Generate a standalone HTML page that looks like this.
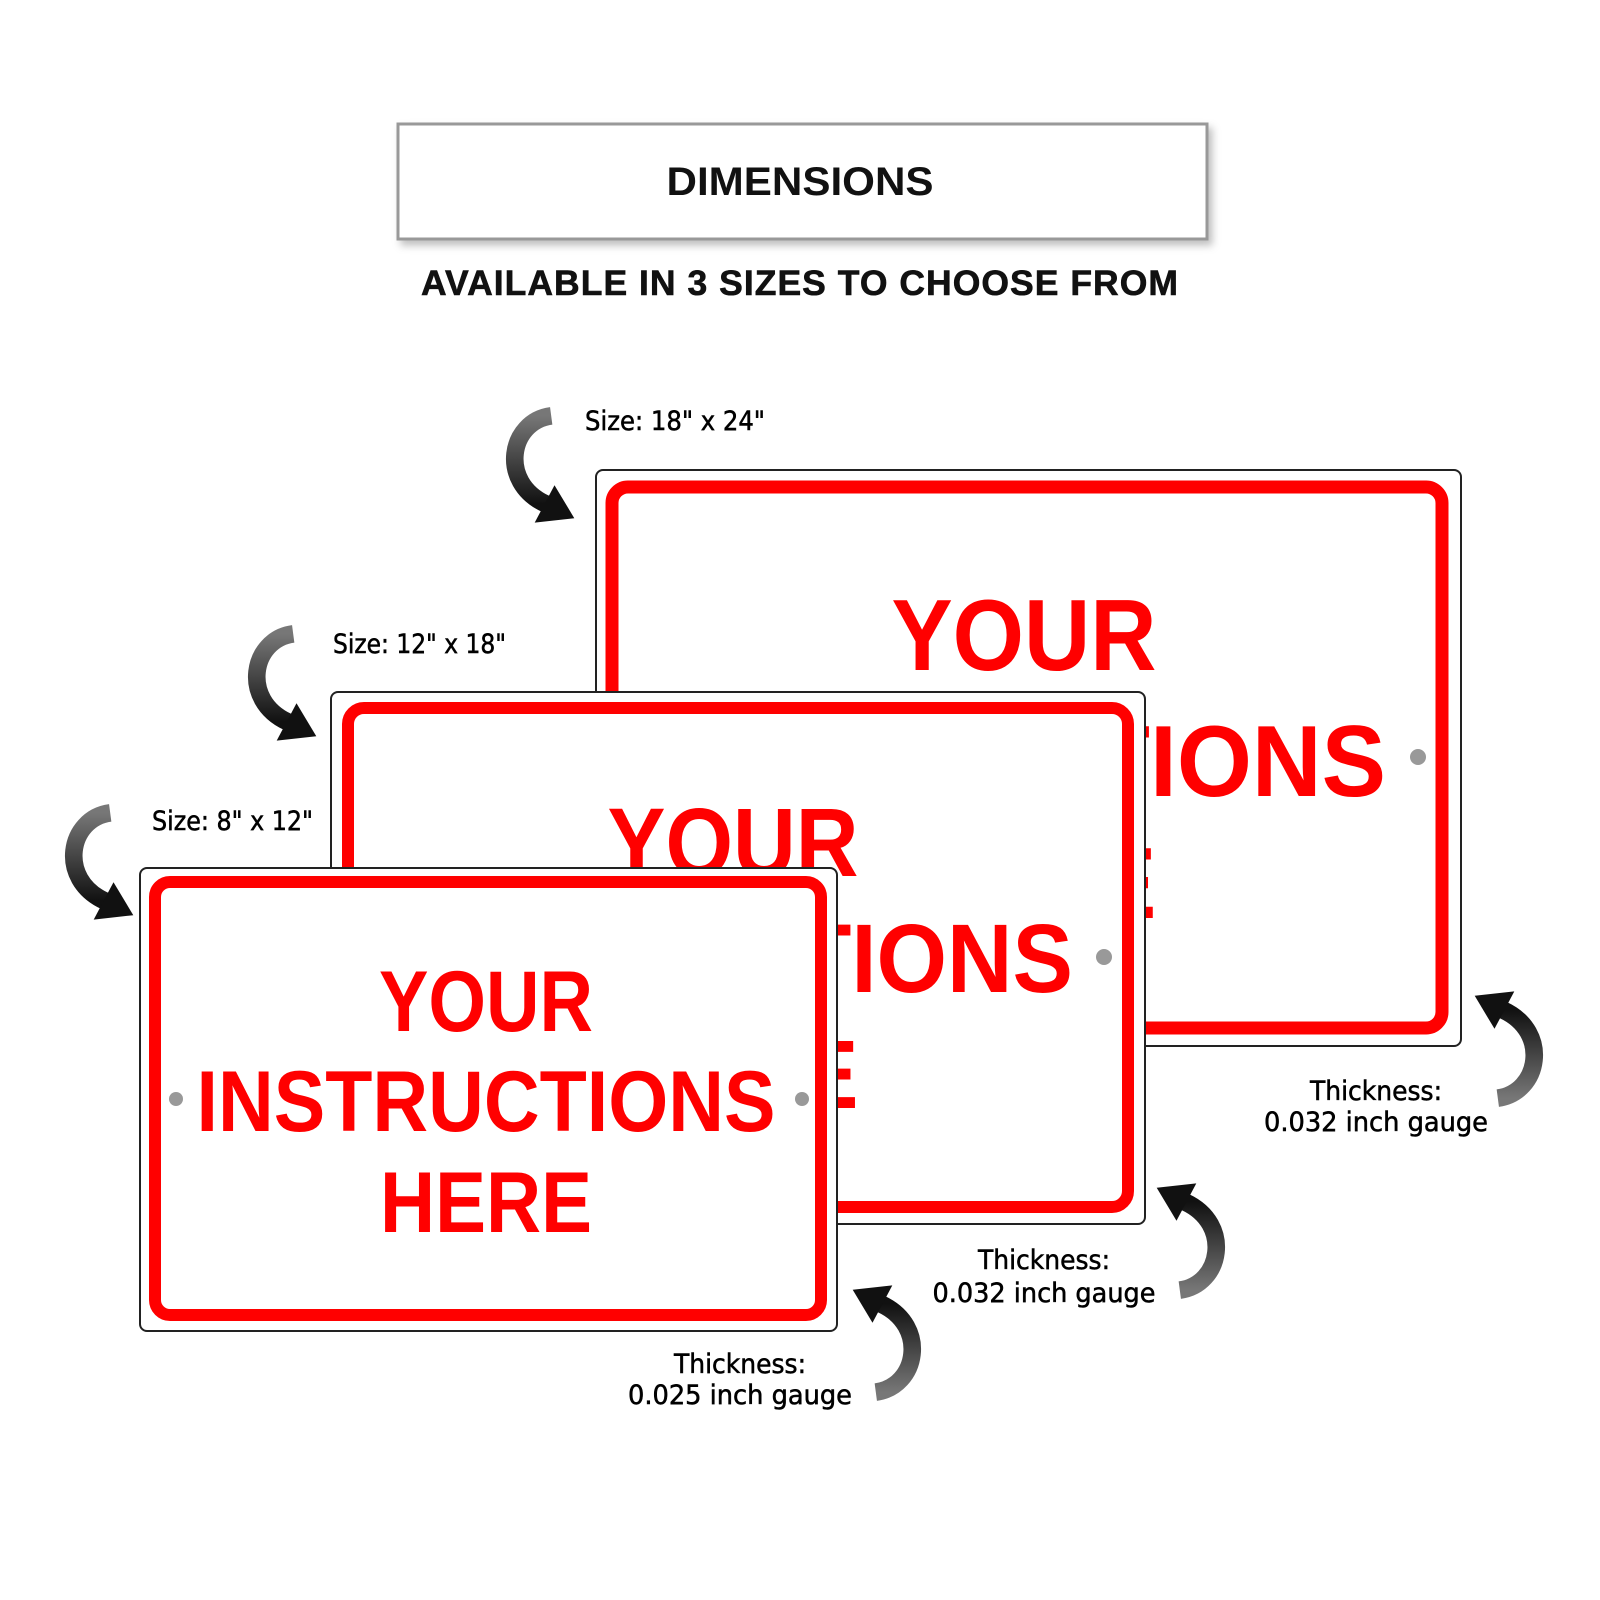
<!DOCTYPE html>
<html><head><meta charset="utf-8"><style>
html,body{margin:0;padding:0;background:#fff;}
svg{display:block}
</style></head><body>
<svg width="1600" height="1600" viewBox="0 0 1600 1600" xmlns="http://www.w3.org/2000/svg">
<defs>
<filter id="sh" x="-10%" y="-10%" width="130%" height="140%"><feDropShadow dx="4" dy="5" stdDeviation="4" flood-color="#000" flood-opacity="0.25"/></filter>
<linearGradient id="ag" x1="0" y1="0" x2="0" y2="1"><stop offset="0" stop-color="#777"/><stop offset="1" stop-color="#111"/></linearGradient>
<g id="arr">
<path d="M43,0 C5,5 -5,60 38,80" fill="none" stroke="#fff" stroke-width="22"/>
<path d="M43,0 C5,5 -5,60 38,80" fill="none" stroke="url(#ag)" stroke-width="16"/>
<polygon points="28,97 46,63 64,93" fill="#111"/>
</g>
</defs>
<rect width="1600" height="1600" fill="#fff"/>

<rect x="398" y="124" width="809" height="115" fill="#fff" stroke="#999" stroke-width="3" filter="url(#sh)"/>
<text x="800" y="195" text-anchor="middle" font-family="Liberation Sans, sans-serif" font-weight="bold" font-size="40" fill="#111" textLength="267" lengthAdjust="spacingAndGlyphs">DIMENSIONS</text>
<text x="800" y="295" text-anchor="middle" font-family="Liberation Sans, sans-serif" font-weight="bold" font-size="35" fill="#111" stroke="#111" stroke-width="0.6" textLength="758" lengthAdjust="spacingAndGlyphs" letter-spacing="1">AVAILABLE IN 3 SIZES TO CHOOSE FROM</text>

<g font-family="Liberation Sans, sans-serif" font-weight="bold" fill="#ff0000" text-anchor="middle">
<rect x="596" y="470" width="865" height="576" rx="7" fill="#fff" stroke="#222" stroke-width="2"/>
<rect x="612" y="487" width="830" height="541" rx="16" fill="none" stroke="#ff0000" stroke-width="13"/>
<text x="1024" y="670" font-size="101" textLength="265" lengthAdjust="spacingAndGlyphs">YOUR</text>
<text x="1024" y="796" font-size="101" textLength="724" lengthAdjust="spacingAndGlyphs">INSTRUCTIONS</text>
<text x="1024" y="918" font-size="101" textLength="265" lengthAdjust="spacingAndGlyphs">HERE</text>
<circle cx="1418" cy="757" r="8" fill="#999"/>

<rect x="331" y="692" width="814" height="532" rx="7" fill="#fff" stroke="#222" stroke-width="2"/>
<rect x="348" y="708" width="780" height="499" rx="16" fill="none" stroke="#ff0000" stroke-width="12"/>
<text x="733" y="876" font-size="97" textLength="251" lengthAdjust="spacingAndGlyphs">YOUR</text>
<text x="733" y="992" font-size="97" textLength="680" lengthAdjust="spacingAndGlyphs">INSTRUCTIONS</text>
<text x="733" y="1108" font-size="97" textLength="251" lengthAdjust="spacingAndGlyphs">HERE</text>
<circle cx="1104" cy="957" r="8" fill="#999"/>

<rect x="140" y="868" width="697" height="463" rx="7" fill="#fff" stroke="#222" stroke-width="2"/>
<rect x="155" y="882" width="666" height="433" rx="15" fill="none" stroke="#ff0000" stroke-width="12"/>
<text x="486" y="1031" font-size="86" textLength="214" lengthAdjust="spacingAndGlyphs">YOUR</text>
<text x="486" y="1131" font-size="86" textLength="579" lengthAdjust="spacingAndGlyphs">INSTRUCTIONS</text>
<text x="486" y="1232" font-size="86" textLength="212" lengthAdjust="spacingAndGlyphs">HERE</text>
<circle cx="176" cy="1099" r="7" fill="#999"/>
<circle cx="802" cy="1099" r="7" fill="#999"/>
</g>

<g font-family="DejaVu Sans Condensed, DejaVu Sans, sans-serif" font-size="27" fill="#000" stroke="#000" stroke-width="0.5">
<text x="585" y="430" textLength="180" lengthAdjust="spacingAndGlyphs">Size: 18" x 24"</text>
<text x="333" y="653" textLength="173" lengthAdjust="spacingAndGlyphs">Size: 12" x 18"</text>
<text x="152" y="830" textLength="161" lengthAdjust="spacingAndGlyphs">Size: 8" x 12"</text>
<g text-anchor="middle">
<text x="1376" y="1100" textLength="132" lengthAdjust="spacingAndGlyphs">Thickness:</text>
<text x="1376" y="1131" textLength="224" lengthAdjust="spacingAndGlyphs">0.032 inch gauge</text>
<text x="1044" y="1269" textLength="132" lengthAdjust="spacingAndGlyphs">Thickness:</text>
<text x="1044" y="1302" textLength="223" lengthAdjust="spacingAndGlyphs">0.032 inch gauge</text>
<text x="740" y="1373" textLength="132" lengthAdjust="spacingAndGlyphs">Thickness:</text>
<text x="740" y="1404" textLength="224" lengthAdjust="spacingAndGlyphs">0.025 inch gauge</text>
</g>
</g>

<use href="#arr" transform="translate(510,425) translate(61,91) scale(1.1) translate(-61,-91)"/>
<use href="#arr" transform="translate(252,643) translate(61,91) scale(1.1) translate(-61,-91)"/>
<use href="#arr" transform="translate(69,822) translate(61,91) scale(1.1) translate(-61,-91)"/>
<use href="#arr" transform="translate(1539,1089) rotate(180) translate(61,91) scale(1.1) translate(-61,-91)"/>
<use href="#arr" transform="translate(1221,1281) rotate(180) translate(61,91) scale(1.1) translate(-61,-91)"/>
<use href="#arr" transform="translate(917,1383) rotate(180) translate(61,91) scale(1.1) translate(-61,-91)"/>
</svg>
</body></html>
